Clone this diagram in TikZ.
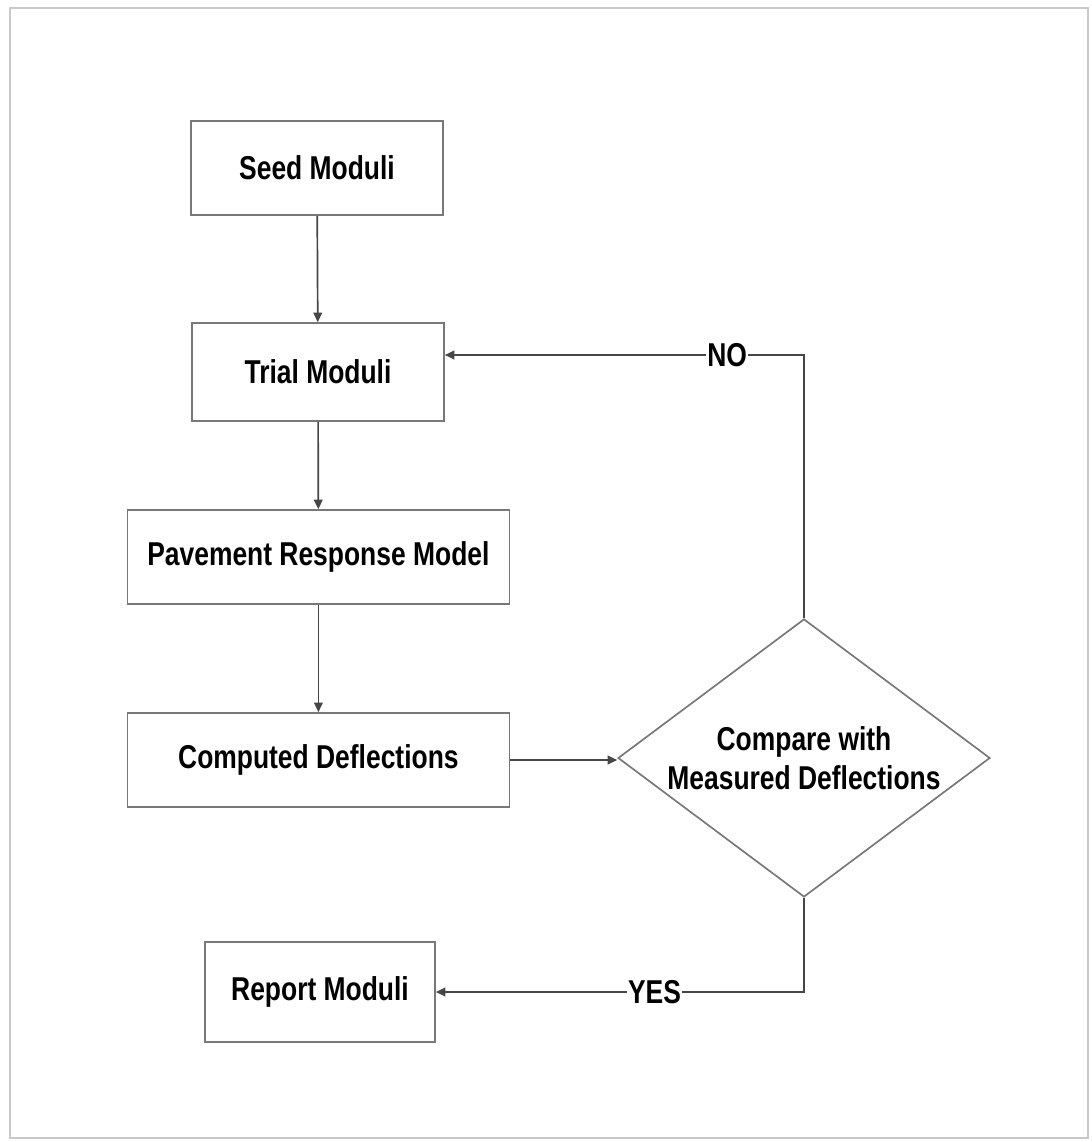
\documentclass[tikz,border=0pt]{standalone}
\usepackage{fontspec}
\setmainfont{Liberation Sans}[FakeStretch=0.8]
\usepackage{xcolor}
\usetikzlibrary{shapes.geometric, arrows.meta, positioning, calc}
\definecolor{lineg}{RGB}{70,70,70}
\definecolor{boxg}{RGB}{120,120,120}
\definecolor{frameg}{RGB}{200,200,200}

\begin{document}
\begin{tikzpicture}[
    box/.style={rectangle, draw=boxg, line width=1.2pt, minimum width=6.3cm, minimum height=2.35cm, align=center, font=\fontsize{23.5}{28}\selectfont\bfseries},
    wide/.style={box, minimum width=9.55cm},
    check/.style={diamond, draw=boxg, line width=1.2pt, shape aspect=1.338, minimum width=9.3cm, minimum height=6.95cm, inner sep=0pt, align=center, font=\fontsize{23.5}{28}\selectfont\bfseries},
    arr/.style={-{Triangle[length=2.4mm,width=2.2mm]}, lineg, line width=1.2pt},
    lbl/.style={fill=white, text=black, inner sep=1pt, font=\fontsize{23.5}{28}\selectfont\bfseries},
]
\useasboundingbox (0,0) rectangle (27.275,-28.55);
\draw[frameg, line width=1.6pt] (0.25,-0.2) rectangle (27.2,-28.45);

\node[box] (seed) at (7.925,-4.2) {Seed Moduli};
\node[box, minimum height=2.45cm] (trial) at (7.95,-9.3) {Trial Moduli};
\node[wide] (pave) at (7.96,-13.925) {Pavement Response Model};
\node[wide] (comp) at (7.96,-19.0) {Computed Deflections};
\node[check] (cmp) at (20.1,-18.95) {Compare with\\Measured Deflections};
\node[box, minimum width=5.75cm, minimum height=2.5cm] (report) at (8.0,-24.8) {Report Moduli};

\draw[arr] (seed) -- (trial);
\draw[arr] (trial) -- (pave);
\draw[arr, line width=0.8pt] (pave) -- (comp);
\draw[arr] (comp.east) -- (comp.east -| cmp.west);
\draw[arr] (cmp.north) |- node[lbl, pos=0.607] {NO} ([yshift=0.425cm]trial.east);
\draw[arr] (cmp.south) |- node[lbl, pos=0.703] {YES} (report.east);
\end{tikzpicture}
\end{document}
